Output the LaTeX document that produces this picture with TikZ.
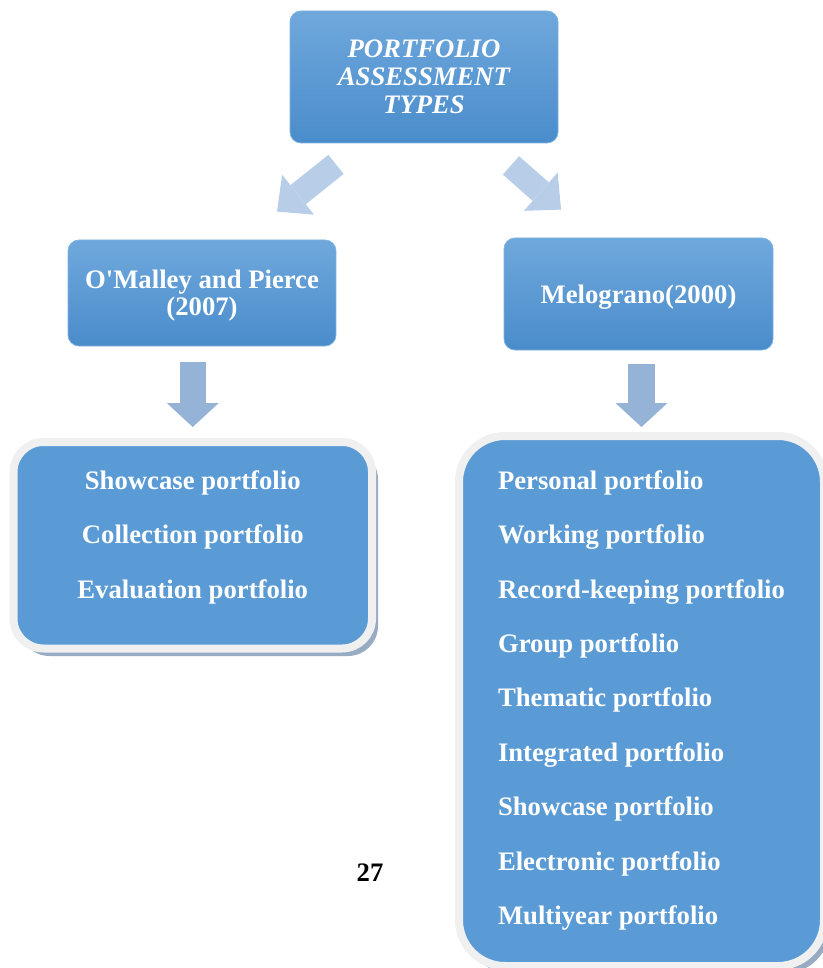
\documentclass[tikz,border=0pt]{standalone}
\usepackage{fontspec}
\setmainfont{Liberation Serif}
\usepackage{tikz}
\usetikzlibrary{arrows.meta,calc,shadows}
\definecolor{boxtop}{HTML}{6FA8DC}
\definecolor{boxbot}{HTML}{4A8CCB}
\definecolor{boxedge}{HTML}{7FB2E0}
\definecolor{listblue}{HTML}{5B9BD5}
\definecolor{framegrey}{HTML}{F0F0F0}
\definecolor{shadowgrey}{HTML}{97ABC2}
\definecolor{arrowpale}{HTML}{B7CDE8}
\definecolor{arrowmid}{HTML}{95B3D7}

\begin{document}
\begin{tikzpicture}[x=1pt,y=-1pt,
    head/.style={rounded corners=11pt, draw=boxedge, line width=0.8pt,
      top color=boxtop, bottom color=boxbot, text=white, align=center,
      font=\fontsize{26.7}{27}\selectfont\bfseries},
    listbox/.style={fill=listblue, draw=framegrey, line width=8pt, text=white,
      font=\fontsize{26.7}{54.4}\selectfont\bfseries,
      drop shadow={shadow xshift=6pt, shadow yshift=-7.5pt, fill=shadowgrey, opacity=1}},
    thickarrow/.style={draw=arrowmid, line width=26.5pt,
      -{Triangle[length=24pt,width=52pt,line width=0pt]}},
    slantarrow/.style={draw=arrowpale, line width=24.5pt,
      -{Triangle[length=27pt,width=51pt,line width=0pt]}}]

    \useasboundingbox (0,0) rectangle (822,968);

    \node [head, minimum width=268pt, minimum height=132pt,
      font=\fontsize{26.7}{28}\selectfont\bfseries\itshape] (types) at (424,77) {PORTFOLIO\\ASSESSMENT\\TYPES};
    \node [head, minimum width=268pt, minimum height=106pt, text depth=0pt] (omalley) at (202,293) {O\textquotesingle Malley and Pierce\\(2007)};
    \node [head, minimum width=269pt, minimum height=112pt, text depth=0pt] (melo) at (638.5,294) {Melograno(2000)};

    % the two lists of portfolio types
    \node [listbox, rounded corners=30pt, align=center, minimum width=358.5pt,
      minimum height=206.5pt, text depth=22pt] (pierce) at (192.75,545.25)
      {Showcase portfolio\\Collection portfolio\\Evaluation portfolio};
    \node [listbox, rounded corners=46pt, align=left, minimum width=365pt,
      minimum height=530pt, text depth=7pt] (melolist) at (641.5,701)
      {Personal portfolio\\Working portfolio\\Record-keeping portfolio\\Group portfolio\\Thematic portfolio\\Integrated portfolio\\Showcase portfolio\\Electronic portfolio\\Multiyear portfolio};

    \node [font=\fontsize{26.7}{28}\selectfont\bfseries, anchor=base] (page) at (370,881) {27};

    \draw [slantarrow] ($(types.south)+(-88,21)$) -- ($(omalley.north)+(75,-28)$);
    \draw [slantarrow] ($(types.south)+(87,22)$) -- ($(melo.north)+(-77.5,-28)$);
    \draw [thickarrow, shorten <=16pt, shorten >=11pt] (omalley.south -| pierce.north) -- (pierce.north);
    \draw [thickarrow, shorten <=14pt, shorten >=5pt] (melo.south -| melolist.north) -- (melolist.north);
\end{tikzpicture}
\end{document}
